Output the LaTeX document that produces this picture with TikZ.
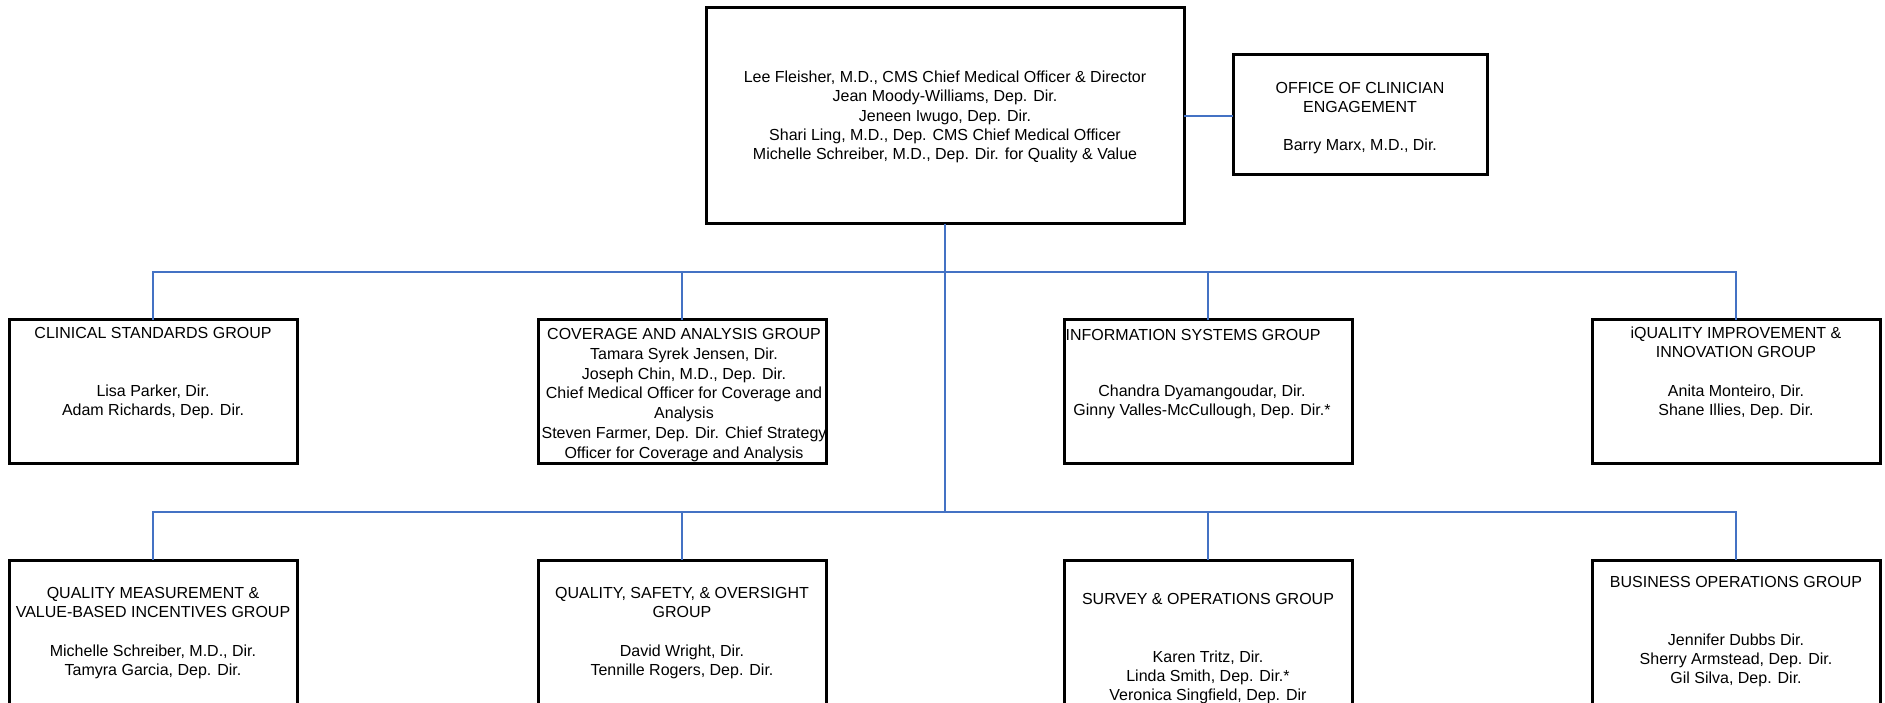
\documentclass[tikz,border=0pt]{standalone}
\usepackage{fontspec}
\setmainfont{Liberation Sans}
\definecolor{connblue}{HTML}{4472C4}
\begin{document}
\begin{tikzpicture}[x=1pt,y=-1pt,
  box/.style={draw=black, line width=3pt, minimum width=288pt, minimum height=143pt, inner sep=0pt, outer sep=0pt},
  rowtwo/.style={box, minimum height=146pt},
  txt/.style={align=center, font=\fontsize{16}{19.2}\selectfont, inner sep=0pt},
  conn/.style={draw=connblue, line width=2.8pt}]
\clip (0,0) rectangle (1885,703);
% top level
\node[box, minimum width=478pt, minimum height=216pt] (top) at (945,116) {};
\node[txt] (toptxt) at (945,117) {Lee Fleisher, M.D., CMS Chief Medical Officer \& Director\\Jean Moody-Williams, Dep. Dir.\\Jeneen Iwugo, Dep. Dir.\\Shari Ling, M.D., Dep. CMS Chief Medical Officer\\Michelle Schreiber, M.D., Dep. Dir. for Quality \& Value};
\node[box, minimum width=254pt, minimum height=120pt] (oce) at (1360,115) {};
\node[txt] (ocetxt) at (1360,118) {OFFICE OF CLINICIAN\\ENGAGEMENT\\[19.2pt]Barry Marx, M.D., Dir.};
% row 1
\node[box] (cs) at (153,391.5) {};
\node[txt] (cstxt) at (153,373) {CLINICAL STANDARDS GROUP\\[38.4pt]Lisa Parker, Dir.\\Adam Richards, Dep. Dir.};
\node[box] (ca) at (682,391.5) {};
\node[txt, font=\fontsize{16}{19.8}\selectfont] (catxt) at (684,395) {COVERAGE AND ANALYSIS GROUP\\Tamara Syrek Jensen, Dir.\\Joseph Chin, M.D., Dep. Dir.\\Chief Medical Officer for Coverage and\\Analysis\\Steven Farmer, Dep. Dir. Chief Strategy\\Officer for Coverage and Analysis};
\node[box] (is) at (1208,391.5) {};
\node[txt, anchor=west] (istitle) at ([xshift=1.5pt]is.west |- 0,335) {INFORMATION SYSTEMS GROUP};
\node[txt] (istxt) at (1202,402) {Chandra Dyamangoudar, Dir.\\Ginny Valles-McCullough, Dep. Dir.*};
\node[box] (iq) at (1736,391.5) {};
\node[txt] (iqtxt) at (1736,373) {iQUALITY IMPROVEMENT \&\\INNOVATION GROUP\\[19.2pt]Anita Monteiro, Dir.\\Shane Illies, Dep. Dir.};
% row 2
\node[rowtwo] (qm) at (153,633) {};
\node[txt] (qmtxt) at (153,633) {QUALITY MEASUREMENT \&\\VALUE-BASED INCENTIVES GROUP\\[19.2pt]Michelle Schreiber, M.D., Dir.\\Tamyra Garcia, Dep. Dir.};
\node[rowtwo] (qs) at (682,633) {};
\node[txt] (qstxt) at (682,633) {QUALITY, SAFETY, \& OVERSIGHT\\GROUP\\[19.2pt]David Wright, Dir.\\Tennille Rogers, Dep. Dir.};
\node[rowtwo] (so) at (1208,633) {};
\node[txt] (sotxt) at (1208,649) {SURVEY \& OPERATIONS GROUP\\[38.4pt]Karen Tritz, Dir.\\Linda Smith, Dep. Dir.*\\Veronica Singfield, Dep. Dir};
\node[rowtwo] (bo) at (1736,633) {};
\node[txt] (botxt) at (1736,632) {BUSINESS OPERATIONS GROUP\\[38.4pt]Jennifer Dubbs Dir.\\Sherry Armstead, Dep. Dir.\\Gil Silva, Dep. Dir.};
% connectors
\coordinate (bus1) at (945,272);
\coordinate (bus2) at (945,512);
\draw[conn] (top.south) -- (bus2);
\draw[conn] (top.east) -- (top.east -| oce.west);
\draw[conn] (cs.north) |- (iq.north |- bus1) -- (iq.north);
\draw[conn] (ca.north |- bus1) -- (ca.north);
\draw[conn] (is.north |- bus1) -- (is.north);
\draw[conn] (qm.north) |- (bo.north |- bus2) -- (bo.north);
\draw[conn] (qs.north |- bus2) -- (qs.north);
\draw[conn] (so.north |- bus2) -- (so.north);
\end{tikzpicture}
\end{document}
